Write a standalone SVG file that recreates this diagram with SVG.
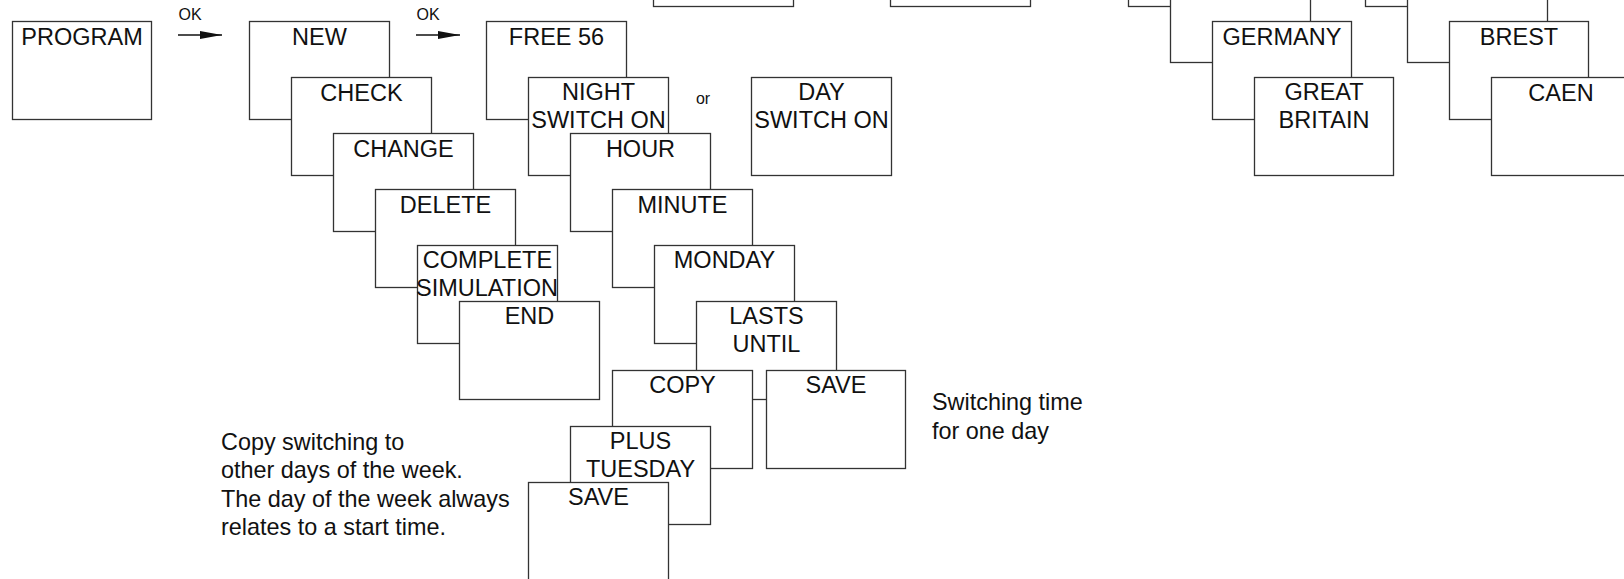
<svg xmlns="http://www.w3.org/2000/svg" width="1624" height="579" viewBox="0 0 1624 579">
<style>
.b{fill:#fff;stroke:#333;stroke-width:1.3}
.t{font-family:"Liberation Sans",Arial,Helvetica,sans-serif;font-size:23.5px;fill:#111;text-anchor:middle}
.n{font-family:"Liberation Sans",Arial,Helvetica,sans-serif;font-size:23.4px;fill:#111}
.s{font-family:"Liberation Sans",Arial,Helvetica,sans-serif;font-size:16px;fill:#111}
.c{stroke:#111;stroke-width:1.3;fill:none}
</style>
<defs>
<marker id="ah" markerUnits="userSpaceOnUse" markerWidth="22" markerHeight="8" refX="22" refY="4" orient="auto">
<path d="M0,0 L22,4 L0,8 z" fill="#111"/>
</marker>
</defs>
<rect width="1624" height="579" fill="#fff"/>

<g id="top-partial-1"><rect class="b" x="653.5" y="-91.5" width="140" height="98"/></g>
<g id="top-partial-2"><rect class="b" x="890.5" y="-91.5" width="140" height="98"/></g>

<g id="program"><rect class="b" x="12.5" y="21.5" width="139" height="98"/><text class="t" x="82" y="45">PROGRAM</text></g>

<g id="new"><rect class="b" x="249.5" y="21.5" width="140" height="98"/><text class="t" x="319.5" y="45">NEW</text></g>
<g id="check"><rect class="b" x="291.5" y="77.5" width="140" height="98"/><text class="t" x="361.5" y="101">CHECK</text></g>
<g id="change"><rect class="b" x="333.5" y="133.5" width="140" height="98"/><text class="t" x="403.5" y="157">CHANGE</text></g>
<g id="delete"><rect class="b" x="375.5" y="189.5" width="140" height="98"/><text class="t" x="445.5" y="213">DELETE</text></g>
<g id="complete-simulation"><rect class="b" x="417.5" y="245.5" width="140" height="98"/><text class="t" x="487.5" y="268">COMPLETE</text><text class="t" x="487" y="296">SIMULATION</text></g>
<g id="end"><rect class="b" x="459.5" y="301.5" width="140" height="98"/><text class="t" x="529.5" y="324">END</text></g>

<g id="free56"><rect class="b" x="486.5" y="21.5" width="140" height="98"/><text class="t" x="556.5" y="45">FREE 56</text></g>
<g id="night-switch-on"><rect class="b" x="528.5" y="77.5" width="140" height="98"/><text class="t" x="598.5" y="100">NIGHT</text><text class="t" x="598.5" y="128">SWITCH ON</text></g>
<g id="hour"><rect class="b" x="570.5" y="133.5" width="140" height="98"/><text class="t" x="640.5" y="157">HOUR</text></g>
<g id="minute"><rect class="b" x="612.5" y="189.5" width="140" height="98"/><text class="t" x="682.5" y="213">MINUTE</text></g>
<g id="monday"><rect class="b" x="654.5" y="245.5" width="140" height="98"/><text class="t" x="724.5" y="268">MONDAY</text></g>
<g id="lasts-until"><rect class="b" x="696.5" y="301.5" width="140" height="98"/><text class="t" x="766.5" y="324">LASTS</text><text class="t" x="766.5" y="352">UNTIL</text></g>

<g id="day-switch-on"><rect class="b" x="751.5" y="77.5" width="140" height="98"/><text class="t" x="821.5" y="100">DAY</text><text class="t" x="821.5" y="128">SWITCH ON</text></g>
<text class="s" x="703" y="104" text-anchor="middle">or</text>

<g id="copy"><rect class="b" x="612.5" y="370.5" width="140" height="98"/><text class="t" x="682.5" y="393">COPY</text></g>
<g id="save1"><rect class="b" x="766.5" y="370.5" width="139" height="98"/><text class="t" x="836" y="393">SAVE</text></g>
<g id="plus-tuesday"><rect class="b" x="570.5" y="426.5" width="140" height="98"/><text class="t" x="640.5" y="449">PLUS</text><text class="t" x="640.5" y="477">TUESDAY</text></g>
<g id="save2"><rect class="b" x="528.5" y="482.5" width="140" height="98"/><text class="t" x="598.5" y="505">SAVE</text></g>

<g id="a1"><rect class="b" x="1128.5" y="-91.5" width="140" height="98"/></g>
<g id="a2"><rect class="b" x="1170.5" y="-35.5" width="140" height="98"/></g>
<g id="germany"><rect class="b" x="1212.5" y="21.5" width="139" height="98"/><text class="t" x="1282" y="45">GERMANY</text></g>
<g id="great-britain"><rect class="b" x="1254.5" y="77.5" width="139" height="98"/><text class="t" x="1324" y="100">GREAT</text><text class="t" x="1324" y="128">BRITAIN</text></g>

<g id="b1"><rect class="b" x="1365.5" y="-91.5" width="140" height="98"/></g>
<g id="b2"><rect class="b" x="1407.5" y="-35.5" width="140" height="98"/></g>
<g id="brest"><rect class="b" x="1449.5" y="21.5" width="139" height="98"/><text class="t" x="1519" y="45">BREST</text></g>
<g id="caen"><rect class="b" x="1491.5" y="77.5" width="140" height="98"/><text class="t" x="1561" y="101">CAEN</text></g>

<g id="connectors">
<line class="c" x1="178" y1="35" x2="222" y2="35" marker-end="url(#ah)"/>
<line class="c" x1="416" y1="35" x2="460" y2="35" marker-end="url(#ah)"/>
<text class="s" x="190" y="20" text-anchor="middle">OK</text>
<text class="s" x="428" y="20" text-anchor="middle">OK</text>
</g>

<g id="notes">
<text class="n" x="221" y="450">Copy switching to</text>
<text class="n" x="221" y="478">other days of the week.</text>
<text class="n" x="221" y="507">The day of the week always</text>
<text class="n" x="221" y="535">relates to a start time.</text>
<text class="n" x="932" y="410">Switching time</text>
<text class="n" x="932" y="439">for one day</text>
</g>
</svg>
